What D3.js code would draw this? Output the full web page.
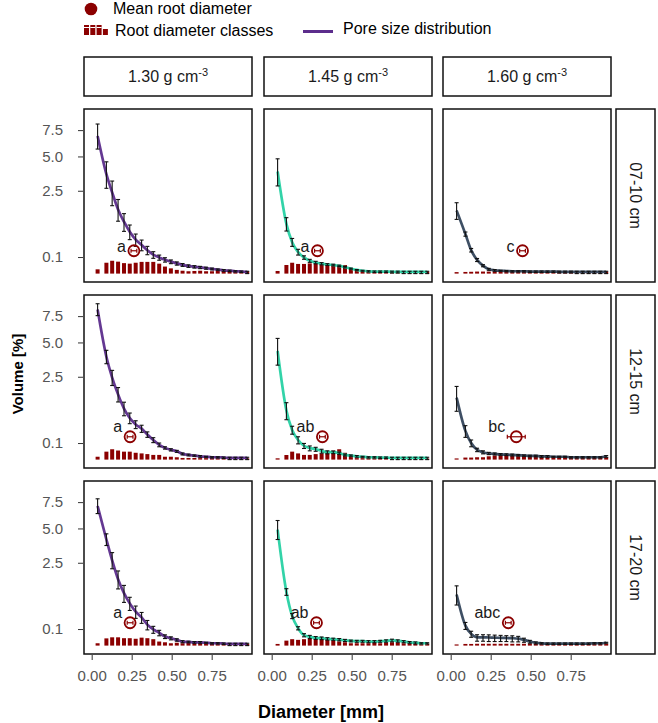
<!DOCTYPE html>
<html lang="en">
<head>
<meta charset="UTF-8">
<script src="https://d3js.org/d3.v7.min.js"></script>
<style>
  body { margin: 0; background: #fff; }
  text { font-family: "Liberation Sans", Arial, sans-serif; }
</style>
<title>Pore size distribution</title>
</head>
<body>
<div id="chart"></div>
<script>
// facets
const densities = ["1.30", "1.45", "1.60"];
const depths = ["07-10 cm", "12-15 cm", "17-20 cm"];
const xTicks = [0, 0.25, 0.5, 0.75];
const yTicks = [0.1, 2.5, 5.0, 7.5];

// diameter class midpoints [mm]
const diamClasses = [0.037, 0.092, 0.128, 0.165, 0.202, 0.238, 0.275, 0.312, 0.348, 0.385, 0.422, 0.458, 0.495,
                     0.532, 0.568, 0.605, 0.642, 0.678, 0.715, 0.752, 0.788, 0.825, 0.862, 0.898, 0.935, 0.972];

// pore size distribution (mean, sd) and root diameter classes, volume [%]
// row 07-10 cm
const psd_130_a = [6.9, 3.6, 2.4, 1.5, 0.98, 0.64, 0.42, 0.30, 0.20, 0.13, 0.095, 0.07, 0.052, 0.038, 0.028, 0.021, 0.017, 0.014, 0.011, 0.008, 0.006, 0.004, 0.003, 0.002, 0.0015, 0.001];
const sd_130_a  = [1.25, 0.95, 0.72, 0.5, 0.33, 0.22, 0.15, 0.11, 0.07, 0.045, 0.03, 0.022, 0.016, 0.012, 0.009, 0.007, 0.006, 0.005, 0.004, 0.003, 0.002, 0.002, 0.0015, 0.001, 0.001, 0.001];
const root_130_a = [0.0067, 0.043, 0.06, 0.052, 0.04, 0.036, 0.043, 0.05, 0.05, 0.05, 0.036, 0.018, 0.01, 0.005, 0.003, 0.002, 0.0025, 0.003, 0.002, 0.002, 0.003, 0.003, 0.003, 0.002, 0.002, 0.002];
const psd_145_a = [3.8, 0.9, 0.36, 0.17, 0.095, 0.06, 0.045, 0.036, 0.03, 0.027, 0.022, 0.015, 0.009, 0.005, 0.003, 0.002, 0.0015, 0.0015, 0.0015, 0.0012, 0.0012, 0.001, 0.001, 0.001, 0.001, 0.001];
const sd_145_a  = [1.0, 0.24, 0.09, 0.045, 0.02, 0.014, 0.01, 0.008, 0.006, 0.005, 0.004, 0.003, 0.002, 0.001, 0.001, 0.001, 0.001, 0.001, 0.001, 0.001, 0.001, 0.001, 0.001, 0.001, 0.001, 0.001];
const root_145_a = [0.0025, 0.027, 0.043, 0.034, 0.034, 0.038, 0.043, 0.038, 0.034, 0.034, 0.027, 0.027, 0.01, 0.005, 0.0015, 0.0015, 0.0015, 0.0015, 0.0015, 0.0015, 0.0015, 0.0015, 0.0015, 0.0015, 0.0015, 0.0015];
const psd_160_a = [1.45, 0.57, 0.2, 0.068, 0.023, 0.007, 0.004, 0.003, 0.0025, 0.002, 0.002, 0.002, 0.0015, 0.0015, 0.0015, 0.0015, 0.0015, 0.0012, 0.0012, 0.0012, 0.001, 0.001, 0.001, 0.001, 0.001, 0.001];
const sd_160_a  = [0.38, 0.06, 0.03, 0.015, 0.006, 0.003, 0.002, 0.001, 0.001, 0.001, 0.001, 0.001, 0.001, 0.001, 0.001, 0.001, 0.001, 0.001, 0.001, 0.001, 0.001, 0.001, 0.001, 0.001, 0.001, 0.001];
const root_160_a = [0.0008, 0.001, 0.0012, 0.0015, 0.0015, 0.0015, 0.0015, 0.0015, 0.0015, 0.0015, 0.0025, 0.0015, 0.0015, 0.0015, 0.0015, 0.0015, 0.0015, 0.0015, 0.0015, 0.0015, 0.0015, 0.0015, 0.0015, 0.0015, 0.0015, 0.0015];
// row 12-15 cm
const psd_130_b = [8.2, 3.85, 2.45, 1.55, 0.95, 0.63, 0.45, 0.35, 0.23, 0.14, 0.08, 0.05, 0.035, 0.025, 0.012, 0.008, 0.006, 0.004, 0.003, 0.002, 0.002, 0.0015, 0.001, 0.001, 0.001, 0.001];
const sd_130_b  = [0.65, 0.5, 0.45, 0.34, 0.25, 0.16, 0.1, 0.08, 0.05, 0.035, 0.02, 0.01, 0.008, 0.006, 0.004, 0.003, 0.002, 0.002, 0.001, 0.001, 0.001, 0.001, 0.001, 0.001, 0.001, 0.001];
const root_130_b = [0.003, 0.023, 0.039, 0.03, 0.023, 0.023, 0.017, 0.014, 0.011, 0.008, 0.008, 0.003, 0.003, 0.002, 0.001, 0.001, 0.001, 0.0008, 0.0008, 0.0008, 0.0008, 0.0006, 0.0006, 0.0006, 0.0006, 0.0006];
const psd_145_b = [4.3, 0.88, 0.32, 0.14, 0.07, 0.048, 0.04, 0.027, 0.02, 0.02, 0.015, 0.008, 0.006, 0.004, 0.003, 0.002, 0.002, 0.0015, 0.0015, 0.001, 0.001, 0.001, 0.001, 0.001, 0.001, 0.001];
const sd_145_b  = [1.05, 0.3, 0.085, 0.05, 0.025, 0.02, 0.015, 0.012, 0.008, 0.007, 0.005, 0.003, 0.002, 0.002, 0.001, 0.001, 0.001, 0.001, 0.001, 0.001, 0.001, 0.001, 0.001, 0.001, 0.001, 0.001];
const root_145_b = [0.0006, 0.0077, 0.023, 0.014, 0.008, 0.008, 0.011, 0.014, 0.023, 0.029, 0.039, 0.017, 0.003, 0.0008, 0.0008, 0.001, 0.001, 0.001, 0.001, 0.0005, 0.0005, 0.0005, 0.0005, 0.0005, 0.0005, 0.0005];
const psd_160_b = [1.4, 0.3, 0.1, 0.035, 0.02, 0.014, 0.012, 0.01, 0.009, 0.008, 0.007, 0.006, 0.005, 0.005, 0.004, 0.004, 0.003, 0.003, 0.003, 0.002, 0.002, 0.002, 0.002, 0.002, 0.002, 0.004];
const sd_160_b  = [0.55, 0.12, 0.04, 0.012, 0.008, 0.005, 0.004, 0.003, 0.003, 0.003, 0.002, 0.002, 0.002, 0.002, 0.002, 0.002, 0.001, 0.001, 0.001, 0.001, 0.001, 0.001, 0.001, 0.001, 0.001, 0.002];
const root_160_b = [0.0005, 0.0015, 0.0015, 0.002, 0.002, 0.004, 0.006, 0.008, 0.006, 0.005, 0.005, 0.004, 0.005, 0.004, 0.004, 0.003, 0.002, 0.002, 0.002, 0.002, 0.002, 0.002, 0.002, 0.002, 0.002, 0.002];
// row 17-20 cm
const psd_130_c = [7.1, 4.1, 2.65, 1.6, 1.0, 0.65, 0.42, 0.29, 0.16, 0.095, 0.06, 0.03, 0.02, 0.012, 0.006, 0.005, 0.004, 0.004, 0.003, 0.002, 0.002, 0.0015, 0.001, 0.001, 0.001, 0.001];
const sd_130_c  = [0.75, 0.45, 0.5, 0.43, 0.32, 0.2, 0.15, 0.11, 0.07, 0.04, 0.025, 0.012, 0.008, 0.005, 0.003, 0.002, 0.002, 0.002, 0.001, 0.001, 0.001, 0.001, 0.001, 0.001, 0.001, 0.001];
const root_130_c = [0.002, 0.019, 0.025, 0.025, 0.02, 0.02, 0.017, 0.023, 0.02, 0.015, 0.006, 0.004, 0.002, 0.003, 0.002, 0.003, 0.002, 0.002, 0.002, 0.001, 0.001, 0.001, 0.001, 0.001, 0.001, 0.001];
const psd_145_c = [4.9, 1.05, 0.32, 0.11, 0.04, 0.028, 0.022, 0.02, 0.017, 0.015, 0.013, 0.01, 0.008, 0.007, 0.007, 0.006, 0.006, 0.007, 0.008, 0.01, 0.008, 0.006, 0.004, 0.003, 0.002, 0.002];
const sd_145_c  = [0.8, 0.13, 0.055, 0.02, 0.012, 0.01, 0.008, 0.007, 0.006, 0.005, 0.005, 0.004, 0.003, 0.003, 0.003, 0.003, 0.003, 0.003, 0.004, 0.005, 0.004, 0.003, 0.002, 0.002, 0.001, 0.001];
const root_145_c = [0.001, 0.009, 0.015, 0.012, 0.015, 0.017, 0.018, 0.02, 0.015, 0.009, 0.006, 0.004, 0.002, 0.002, 0.002, 0.002, 0.003, 0.002, 0.003, 0.004, 0.003, 0.002, 0.002, 0.0015, 0.001, 0.001];
const psd_160_c = [0.95, 0.145, 0.05, 0.025, 0.025, 0.024, 0.023, 0.022, 0.021, 0.02, 0.018, 0.012, 0.006, 0.003, 0.002, 0.0015, 0.0015, 0.0015, 0.0015, 0.0015, 0.0015, 0.0015, 0.0015, 0.002, 0.002, 0.003];
const sd_160_c  = [0.35, 0.05, 0.025, 0.018, 0.018, 0.018, 0.017, 0.016, 0.015, 0.015, 0.013, 0.008, 0.004, 0.002, 0.001, 0.001, 0.001, 0.001, 0.001, 0.001, 0.001, 0.001, 0.001, 0.001, 0.001, 0.001];
const root_160_c = [0.0005, 0.001, 0.001, 0.0012, 0.0012, 0.0012, 0.0012, 0.0012, 0.0012, 0.0012, 0.0012, 0.0012, 0.0012, 0.0012, 0.0012, 0.001, 0.001, 0.001, 0.001, 0.001, 0.001, 0.001, 0.001, 0.001, 0.001, 0.001];

// mean root diameter [mm] per depth row, columns = density
const meanRoot_a = [0.264, 0.286, 0.449];
const meanRoot_b = [0.24, 0.317, 0.41];
const meanRoot_c = [0.24, 0.28, 0.36];
const meanRootSd_a = [0.018, 0.018, 0.018];
const meanRootSd_b = [0.018, 0.018, 0.056];
const meanRootSd_c = [0.018, 0.018, 0.018];
const letters_a = ["a", "a", "c"];
const letters_b = ["a", "ab", "bc"];
const letters_c = ["a", "ab", "abc"];
const meanRootLevel = 0.19;

// build panels
const psdRows = [[psd_130_a, psd_145_a, psd_160_a], [psd_130_b, psd_145_b, psd_160_b], [psd_130_c, psd_145_c, psd_160_c]];
const sdRows = [[sd_130_a, sd_145_a, sd_160_a], [sd_130_b, sd_145_b, sd_160_b], [sd_130_c, sd_145_c, sd_160_c]];
const rootRows = [[root_130_a, root_145_a, root_160_a], [root_130_b, root_145_b, root_160_b], [root_130_c, root_145_c, root_160_c]];
const meanRows = [meanRoot_a, meanRoot_b, meanRoot_c];
const meanSdRows = [meanRootSd_a, meanRootSd_b, meanRootSd_c];
const letterRows = [letters_a, letters_b, letters_c];

const w = 658, h = 723;
const colLeft = [84, 264, 443];
const rowTop = [109, 295, 481];
const pw = 168, ph = 173;
const zeroOff = 164.6;
const lineColors = ["#5c2d8c", "#27d1a3", "#34465c"];
const rootColor = "#8b0000";
const axisGrey = "#555";
const txtFont = "Liberation Sans, Arial, sans-serif";

const svg = d3.select("#chart").append("svg")
  .attr("width", w).attr("height", h);

const xs = colLeft.map(l => d3.scaleLinear().domain([-0.048, 1.002]).range([l, l + pw]));
const ys = rowTop.map(t => d3.scaleSqrt().domain([0, 9.87]).range([t + zeroOff, t]));

const defs = svg.append("defs");

for (let r = 0; r < 3; r++) {
  for (let c = 0; c < 3; c++) {
    const x = xs[c], y = ys[r];
    const id = "clip" + r + c;
    defs.append("clipPath").attr("id", id)
      .append("rect").attr("x", colLeft[c]).attr("y", rowTop[r]).attr("width", pw).attr("height", ph);

    const g = svg.append("g").attr("clip-path", "url(#" + id + ")");
    const pts = diamClasses.map((d, i) => ({x: d, v: psdRows[r][c][i], sd: sdRows[r][c][i], root: rootRows[r][c][i]}));

    // root diameter classes
    g.selectAll("rect.root").data(pts).enter().append("rect")
      .attr("class", "root")
      .attr("x", d => x(d.x - 0.0125))
      .attr("width", x(0.025) - x(0))
      .attr("y", d => y(d.root))
      .attr("height", d => y(0) - y(d.root))
      .attr("fill", rootColor);

    // pore size distribution
    const line = d3.line().x(d => x(d.x)).y(d => y(d.v)).curve(d3.curveMonotoneX);
    g.append("path").datum(pts)
      .attr("d", line)
      .attr("fill", "none")
      .attr("stroke", lineColors[c])
      .attr("stroke-width", 2.7)
      .attr("opacity", 0.95);

    // error bars
    const eb = g.selectAll("g.eb").data(pts).enter().append("g").attr("class", "eb")
      .attr("stroke", "#111").attr("stroke-width", 1.1);
    eb.append("line")
      .attr("x1", d => x(d.x)).attr("x2", d => x(d.x))
      .attr("y1", d => y(d.v + d.sd)).attr("y2", d => y(Math.max(0, d.v - d.sd)));
    eb.append("line")
      .attr("x1", d => x(d.x) - 2).attr("x2", d => x(d.x) + 2)
      .attr("y1", d => y(d.v + d.sd)).attr("y2", d => y(d.v + d.sd));
    eb.append("line")
      .attr("x1", d => x(d.x) - 2).attr("x2", d => x(d.x) + 2)
      .attr("y1", d => y(Math.max(0, d.v - d.sd))).attr("y2", d => y(Math.max(0, d.v - d.sd)));

    // mean root diameter
    const mx = meanRows[r][c], msd = meanSdRows[r][c];
    const cy = y(meanRootLevel);
    g.append("line")
      .attr("x1", x(mx - msd)).attr("x2", x(mx + msd))
      .attr("y1", cy).attr("y2", cy)
      .attr("stroke", rootColor).attr("stroke-width", 1.2);
    [mx - msd, mx + msd].forEach(v => {
      g.append("line")
        .attr("x1", x(v)).attr("x2", x(v))
        .attr("y1", cy - 2).attr("y2", cy + 2)
        .attr("stroke", rootColor).attr("stroke-width", 1.2);
    });
    g.append("circle")
      .attr("cx", x(mx)).attr("cy", cy).attr("r", 5.5)
      .attr("fill", "none").attr("stroke", rootColor).attr("stroke-width", 1.8);
    g.append("text")
      .attr("x", x(mx) - (msd > 0.03 ? 11 : 8)).attr("y", cy + (r === 0 ? 1 : -5))
      .attr("text-anchor", "end")
      .attr("font-size", 16).attr("fill", "#1a1a1a")
      .text(letterRows[r][c]);

    // panel border
    svg.append("rect")
      .attr("x", colLeft[c]).attr("y", rowTop[r]).attr("width", pw).attr("height", ph)
      .attr("fill", "none").attr("stroke", "#111").attr("stroke-width", 1.5);
  }

  // y axis
  const ya = svg.append("g")
    .attr("transform", "translate(" + (colLeft[0] - 1) + ",0)")
    .call(d3.axisLeft(ys[r]).tickValues(yTicks).tickFormat(d3.format(".1f")).tickSize(5).tickPadding(15));
  ya.select(".domain").remove();
  ya.selectAll("line").attr("stroke", "#333");
  ya.selectAll("text").attr("fill", axisGrey).attr("font-size", 15).attr("font-family", txtFont);

  // right strip
  svg.append("rect")
    .attr("x", 616).attr("y", rowTop[r]).attr("width", 39).attr("height", ph)
    .attr("fill", "#fff").attr("stroke", "#111").attr("stroke-width", 1.5);
  svg.append("text")
    .attr("transform", "translate(" + 635.5 + "," + (rowTop[r] + ph / 2) + ") rotate(90)")
    .attr("text-anchor", "middle").attr("dy", "0.35em")
    .attr("font-size", 16).attr("fill", "#1a1a1a")
    .text(depths[r]);
}

// x axes and top strips
for (let c = 0; c < 3; c++) {
  const xa = svg.append("g")
    .attr("transform", "translate(0," + (rowTop[2] + ph + 1) + ")")
    .call(d3.axisBottom(xs[c]).tickValues(xTicks).tickFormat(d3.format(".2f")).tickSize(5).tickPadding(10));
  xa.select(".domain").remove();
  xa.selectAll("line").attr("stroke", "#333");
  xa.selectAll("text").attr("fill", axisGrey).attr("font-size", 15).attr("font-family", txtFont);

  svg.append("rect")
    .attr("x", colLeft[c]).attr("y", 57).attr("width", pw).attr("height", 39)
    .attr("fill", "#fff").attr("stroke", "#111").attr("stroke-width", 1.5);
  const t = svg.append("text")
    .attr("x", colLeft[c] + pw / 2).attr("y", 82)
    .attr("text-anchor", "middle")
    .attr("font-size", 16).attr("fill", "#1a1a1a");
  t.append("tspan").text(densities[c] + " g cm");
  t.append("tspan").attr("font-size", 11).attr("dy", -6).text("-3");
}

// axis titles
svg.append("text")
  .attr("x", 321).attr("y", 718)
  .attr("text-anchor", "middle")
  .attr("font-size", 18).attr("font-weight", "bold")
  .text("Diameter [mm]");
svg.append("text")
  .attr("transform", "translate(23,374) rotate(-90)")
  .attr("text-anchor", "middle")
  .attr("font-size", 15).attr("font-weight", "bold")
  .text("Volume [%]");

// legend
const legend = svg.append("g").attr("id", "legend");
legend.append("circle").attr("cx", 91).attr("cy", 9).attr("r", 6.3).attr("fill", rootColor);
legend.append("text").attr("x", 113).attr("y", 14).attr("font-size", 16).text("Mean root diameter");
const iconH = [10, 10, 10, 6];
iconH.forEach((hh, i) => {
  legend.append("rect").attr("x", 84 + i * 6.3).attr("y", 35 - hh).attr("width", 5).attr("height", hh).attr("fill", rootColor);
  if (hh > 6) legend.append("line").attr("x1", 84 + i * 6.3).attr("x2", 89 + i * 6.3)
    .attr("y1", 35 - hh + 2.5).attr("y2", 35 - hh + 2.5).attr("stroke", "#fff").attr("stroke-width", 1);
});
legend.append("text").attr("x", 115).attr("y", 36).attr("font-size", 16).text("Root diameter classes");
legend.append("line").attr("x1", 303).attr("x2", 333).attr("y1", 31.5).attr("y2", 31.5)
  .attr("stroke", lineColors[0]).attr("stroke-width", 3);
legend.append("text").attr("x", 343).attr("y", 34).attr("font-size", 16).text("Pore size distribution");
</script>
</body>
</html>
